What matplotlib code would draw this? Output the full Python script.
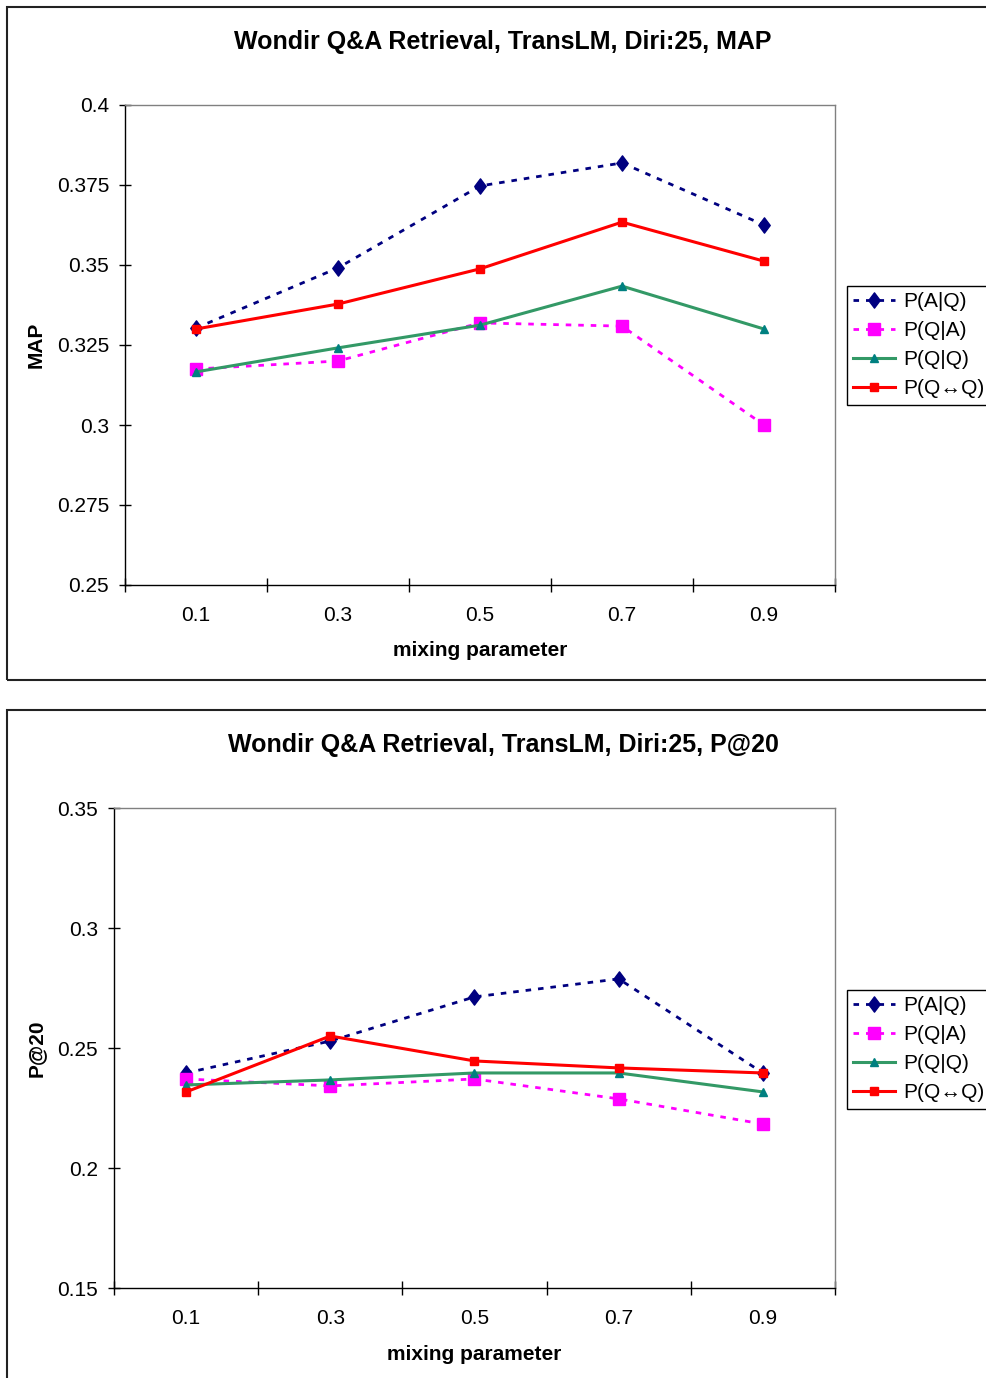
import matplotlib
import matplotlib.pyplot as plt
from matplotlib.patches import Rectangle
from matplotlib.path import Path
from matplotlib.ticker import FixedLocator, NullFormatter

matplotlib.use("Agg")

plt.rcParams["font.family"] = ["Liberation Sans", "DejaVu Sans"]

W, H = 987, 1378

# data
mixing = ["0.1", "0.3", "0.5", "0.7", "0.9"]
series_names = ["P(A|Q)", "P(Q|A)", "P(Q|Q)", "P(Q\u2194Q)"]

map_a_q = [0.3303, 0.3491, 0.3747, 0.3819, 0.3625]
map_q_a = [0.3175, 0.3200, 0.3319, 0.3309, 0.3000]
map_q_q = [0.3166, 0.3241, 0.3312, 0.3434, 0.3300]
map_qq = [0.3300, 0.3378, 0.3488, 0.3634, 0.3512]

p20_a_q = [0.2396, 0.2529, 0.2713, 0.2788, 0.2396]
p20_q_a = [0.2371, 0.2342, 0.2371, 0.2288, 0.2183]
p20_q_q = [0.2346, 0.2367, 0.2396, 0.2396, 0.2317]
p20_qq = [0.2317, 0.2550, 0.2446, 0.2417, 0.2396]

map_ticks = [0.25, 0.275, 0.3, 0.325, 0.35, 0.375, 0.4]
map_tick_labels = ["0.25", "0.275", "0.3", "0.325", "0.35", "0.375", "0.4"]
p20_ticks = [0.15, 0.2, 0.25, 0.3, 0.35]
p20_tick_labels = ["0.15", "0.2", "0.25", "0.3", "0.35"]

# excel style diamond, a bit taller than wide
diamond = Path([(0, 1), (0.75, 0), (0, -1), (-0.75, 0), (0, 1)], closed=True)

styles = [
    dict(color="#000080", ls=(0, (2, 2.5)), lw=2.0, marker=diamond, ms=11,
         mfc="#000080", mec="#000080"),
    dict(color="#FF00FF", ls=(0, (2, 2.5)), lw=2.0, marker="s", ms=8,
         mfc="#FF00FF", mec="#FF00FF"),
    dict(color="#339966", ls="-", lw=2.2, marker="^", ms=6,
         mfc="#008080", mec="#008080"),
    dict(color="#FF0000", ls="-", lw=2.2, marker="s", ms=6,
         mfc="#FF0000", mec="#FF0000"),
]


def fx(px):
    return px / W


def fy(py):
    return 1 - py / H


def draw_chart(fig, ax, series, ticks, tick_labels, title, ylabel,
               title_y, ylabel_x, xlabel_y, legend_top):
    x = list(range(len(mixing)))
    handles = []
    for vals, name, st in zip(series, series_names, styles):
        h, = ax.plot(x, vals, label=name, color=st["color"], linestyle=st["ls"],
                     linewidth=st["lw"], marker=st["marker"], markersize=st["ms"],
                     markerfacecolor=st["mfc"], markeredgecolor=st["mec"],
                     clip_on=False)
        handles.append(h)

    ax.set_xlim(-0.5, len(mixing) - 0.5)
    ax.set_ylim(ticks[0], ticks[-1])
    ax.set_yticks(ticks)
    ax.set_yticklabels(tick_labels)

    ax.xaxis.set_major_locator(FixedLocator([i - 0.5 for i in range(len(mixing) + 1)]))
    ax.xaxis.set_major_formatter(NullFormatter())
    ax.xaxis.set_minor_locator(FixedLocator(x))
    ax.set_xticklabels(mixing, minor=True)
    ax.tick_params(axis="x", which="minor", length=0, pad=15, labelsize=15)
    ax.tick_params(axis="x", which="major", direction="inout", length=10, width=1)
    ax.tick_params(axis="y", direction="inout", length=9, width=1, pad=7, labelsize=15)

    for s in ["left", "bottom"]:
        ax.spines[s].set_color("black")
        ax.spines[s].set_linewidth(1)
    for s in ["top", "right"]:
        ax.spines[s].set_color("#808080")
        ax.spines[s].set_linewidth(1)

    pos = ax.get_position()
    fig.text((pos.x0 + pos.x1) / 2, fy(xlabel_y), "mixing parameter",
             ha="center", va="center", fontsize=15, fontweight="bold")
    fig.text(fx(ylabel_x), (pos.y0 + pos.y1) / 2, ylabel, rotation=90,
             ha="center", va="center", fontsize=15, fontweight="bold")
    fig.text(fx(503), fy(title_y), title, ha="center", va="center",
             fontsize=18, fontweight="bold")

    leg = fig.legend(handles=handles, loc="upper left",
                     bbox_to_anchor=(fx(847), fy(legend_top)),
                     bbox_transform=fig.transFigure, borderaxespad=0,
                     fontsize=15, frameon=True, fancybox=False, framealpha=1,
                     edgecolor="black", handlelength=2.0, handletextpad=0.4,
                     borderpad=0.3, labelspacing=0.48)
    leg.get_frame().set_linewidth(1)


fig = plt.figure(figsize=(W / 100, H / 100), dpi=100)

# chart outer borders
fig.patches.append(Rectangle((fx(7), fy(680)), 1.1, fy(7) - fy(680),
                             transform=fig.transFigure, fill=False,
                             edgecolor="#222222", linewidth=1.5))
fig.patches.append(Rectangle((fx(7), -0.1), 1.1, fy(710) + 0.1,
                             transform=fig.transFigure, fill=False,
                             edgecolor="#222222", linewidth=1.5))

ax1 = fig.add_axes([fx(125), fy(585), fx(835) - fx(125), fy(105) - fy(585)])
draw_chart(fig, ax1, [map_a_q, map_q_a, map_q_q, map_qq], map_ticks, map_tick_labels,
           "Wondir Q&A Retrieval, TransLM, Diri:25, MAP", "MAP",
           title_y=42, ylabel_x=36, xlabel_y=651, legend_top=286)

ax2 = fig.add_axes([fx(114), fy(1288), fx(835) - fx(114), fy(808) - fy(1288)])
draw_chart(fig, ax2, [p20_a_q, p20_q_a, p20_q_q, p20_qq], p20_ticks, p20_tick_labels,
           "Wondir Q&A Retrieval, TransLM, Diri:25, P@20", "P@20",
           title_y=745, ylabel_x=36, xlabel_y=1354, legend_top=990)

fig.savefig("out.png", dpi=100)
